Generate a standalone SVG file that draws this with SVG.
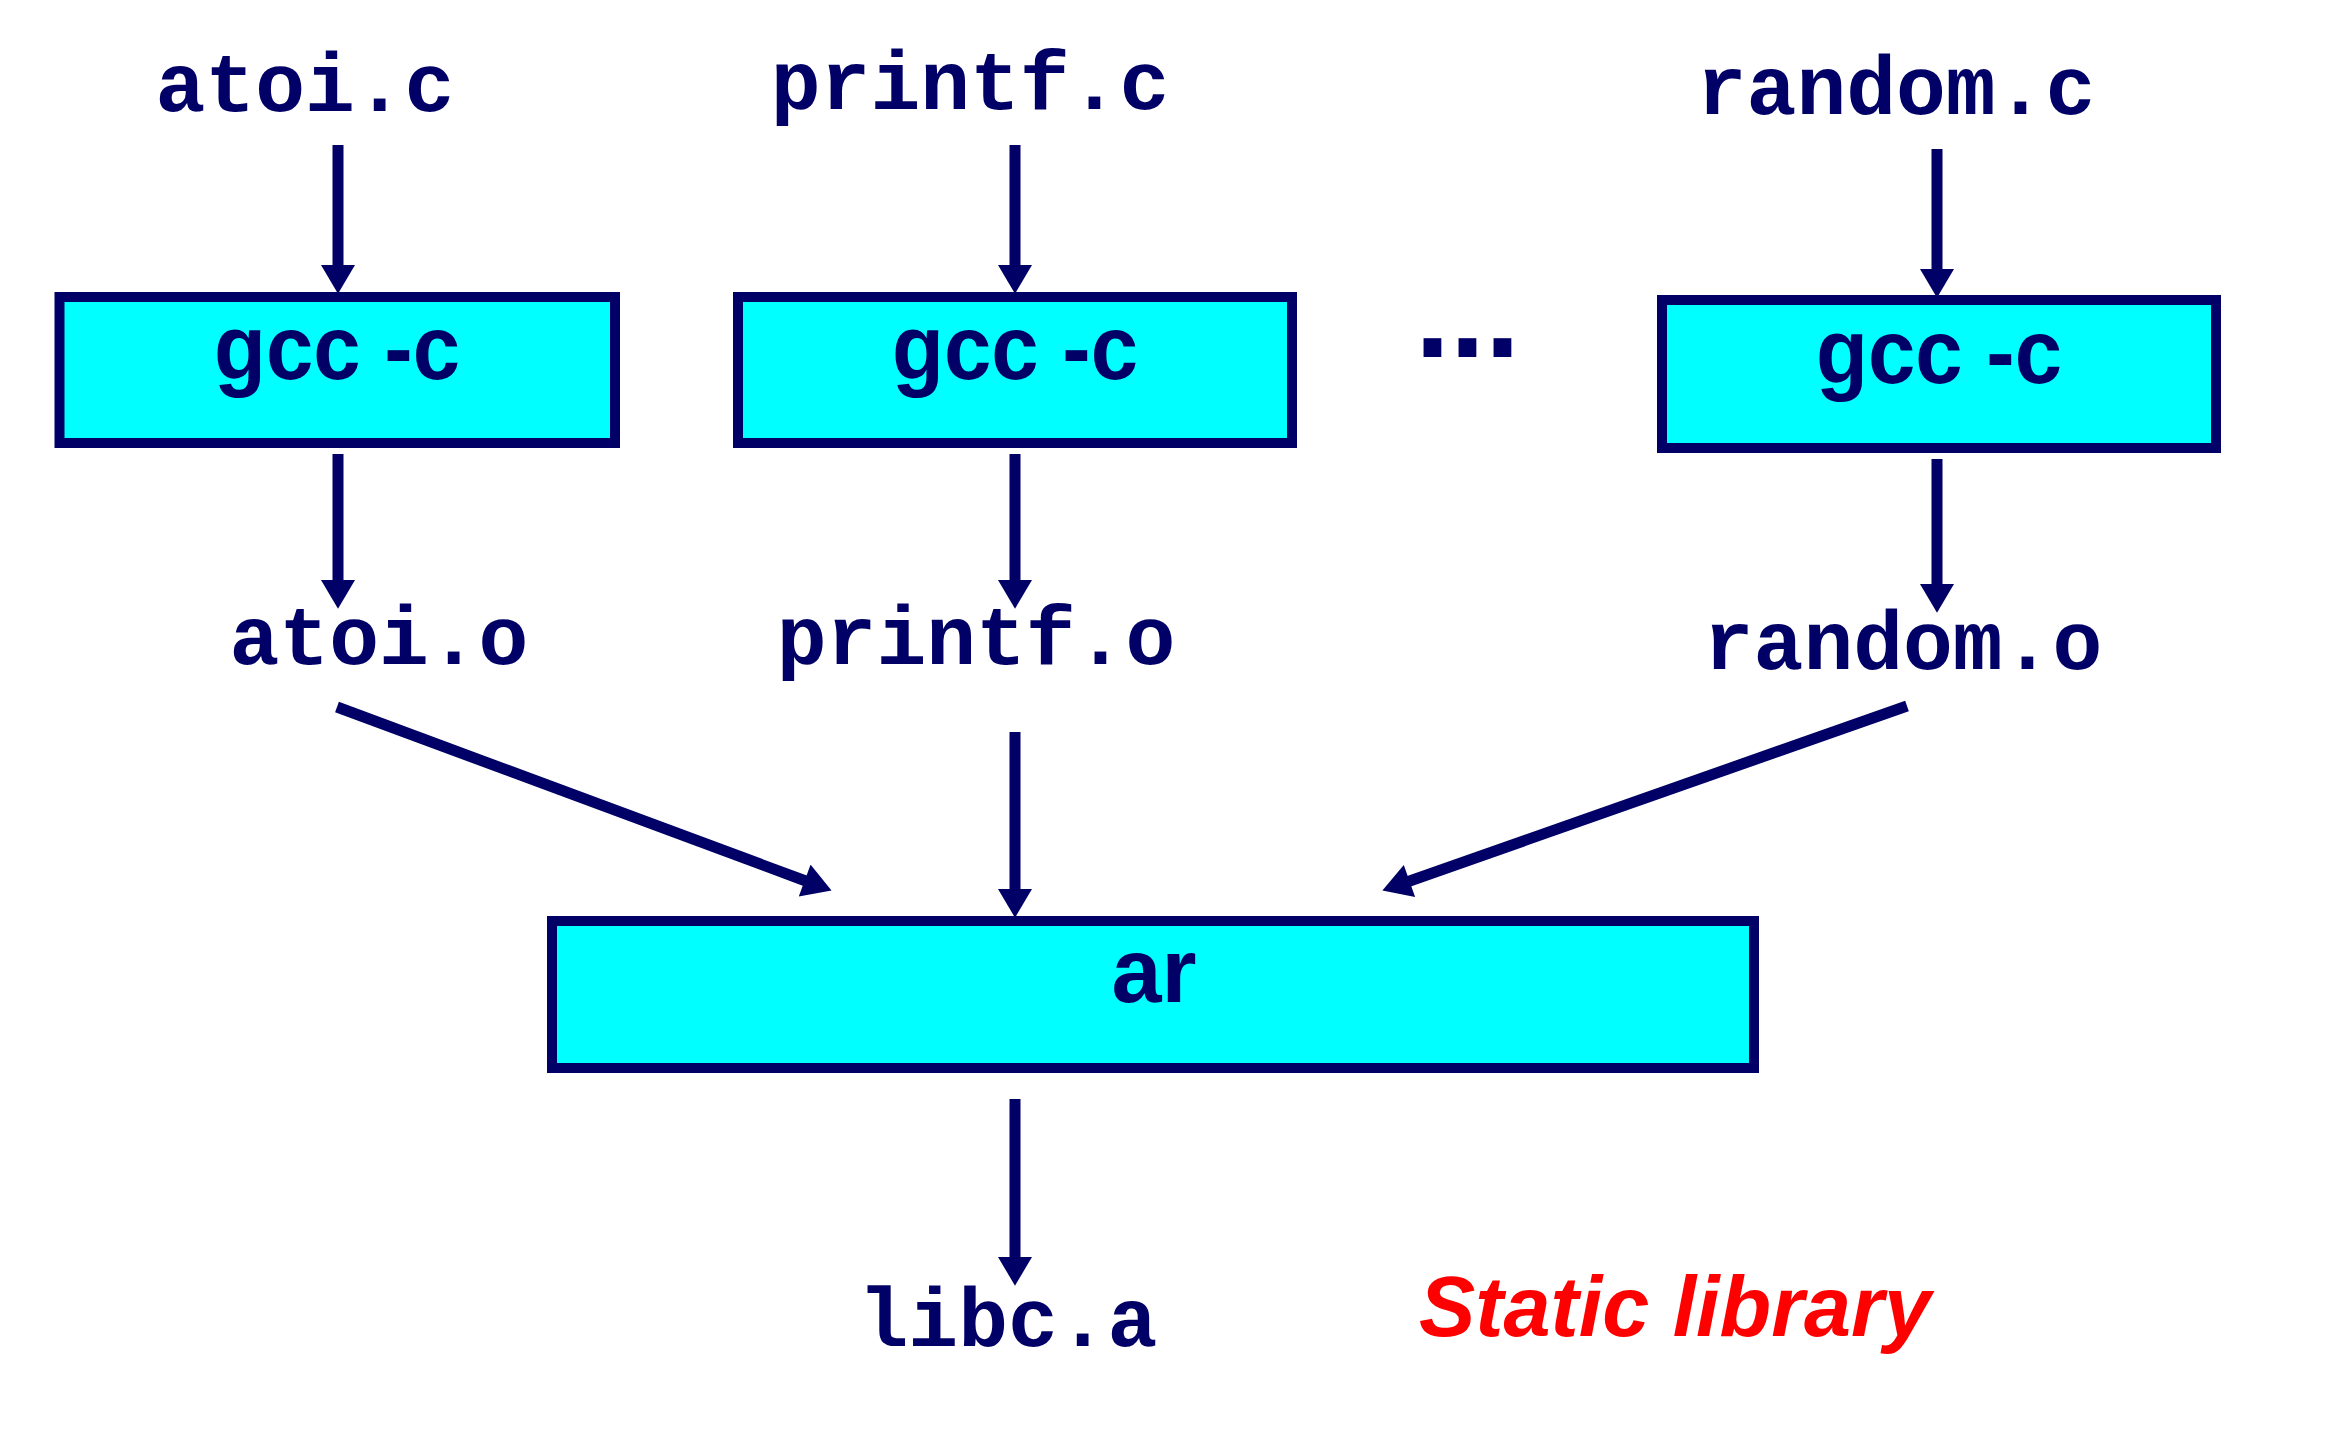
<svg xmlns="http://www.w3.org/2000/svg" width="2326" height="1440" viewBox="0 0 2326 1440">
<style>
.box{fill:#00FFFF;stroke:#000066;stroke-width:10}
.mono{font-family:"Liberation Mono","Courier New",monospace;font-weight:bold;font-size:83px;fill:#000066;text-anchor:middle}
.lbl{font-family:"Liberation Sans",Arial,sans-serif;font-weight:bold;font-size:90px;fill:#000066;text-anchor:middle}
.edge{stroke:#000066;stroke-width:11;fill:none;marker-end:url(#ah)}
.note{font-family:"Liberation Sans",Arial,sans-serif;font-weight:bold;font-style:italic;font-size:86px;fill:#FF0000}
</style>
<defs>
<marker id="ah" markerUnits="userSpaceOnUse" markerWidth="30" markerHeight="34" viewBox="0 0 27 32" refX="16" refY="16" orient="auto">
<path d="M0,0 L27,16 L0,32 Z" fill="#000066"/>
</marker>
</defs>
<rect width="2326" height="1440" fill="#FFFFFF"/>
<g id="atoi_c"><text class="mono" x="305" y="111">atoi.c</text></g>
<g id="printf_c"><text class="mono" x="970" y="109">printf.c</text></g>
<g id="random_c"><text class="mono" x="1896" y="114">random.c</text></g>
<g id="gcc1"><rect class="box" x="59.5" y="297" width="555.5" height="146"/><text class="lbl" x="337" y="379" textLength="246" lengthAdjust="spacingAndGlyphs">gcc -c</text></g>
<g id="gcc2"><rect class="box" x="738" y="297" width="554" height="146"/><text class="lbl" x="1015" y="379" textLength="246" lengthAdjust="spacingAndGlyphs">gcc -c</text></g>
<g id="gcc3"><rect class="box" x="1662" y="300" width="554" height="148"/><text class="lbl" x="1939" y="383" textLength="246" lengthAdjust="spacingAndGlyphs">gcc -c</text></g>
<g id="dots"><text x="1415" y="357" style="font-family:'Liberation Sans',Arial,sans-serif;font-weight:bold;font-size:126px;fill:#000066">...</text></g>
<g id="atoi_o"><text class="mono" x="379" y="664">atoi.o</text></g>
<g id="printf_o"><text class="mono" x="976" y="664">printf.o</text></g>
<g id="random_o"><text class="mono" x="1903" y="669">random.o</text></g>
<g id="ar"><rect class="box" x="552" y="921" width="1202" height="147"/><text class="lbl" x="1154" y="1002">ar</text></g>
<g id="libc_a"><text class="mono" x="1008" y="1346">libc.a</text></g>
<g id="static_note"><text class="note" x="1419" y="1336" textLength="512" lengthAdjust="spacingAndGlyphs">Static library</text></g>
<g id="connectors">
<line class="edge" x1="338" y1="145" x2="338" y2="282"/>
<line class="edge" x1="338" y1="454" x2="338" y2="597"/>
<line class="edge" x1="1015" y1="145" x2="1015" y2="282"/>
<line class="edge" x1="1015" y1="454" x2="1015" y2="597"/>
<line class="edge" x1="1937" y1="149" x2="1937" y2="286"/>
<line class="edge" x1="1937" y1="459" x2="1937" y2="601"/>
<line class="edge" x1="1015" y1="732" x2="1015" y2="906"/>
<line class="edge" x1="1015" y1="1099" x2="1015" y2="1274"/>
<line class="edge" x1="337" y1="707" x2="820.6" y2="886.5"/>
<line class="edge" x1="1907" y1="706" x2="1393.4" y2="886.7"/>
</g>
</svg>
